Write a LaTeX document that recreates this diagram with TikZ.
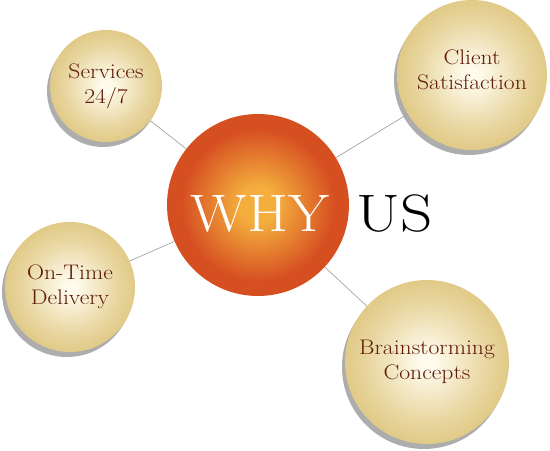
\documentclass[tikz,border=0pt]{standalone}
\usepackage{xcolor}
\usepackage{graphicx}
\usetikzlibrary{shadows}

\definecolor{ballin}{HTML}{FFFCEE}
\definecolor{ballout}{HTML}{E1CA87}
\definecolor{whyin}{HTML}{F4AE3E}
\definecolor{whyout}{HTML}{D64F21}
\definecolor{labeltext}{HTML}{5F1A0A}
\definecolor{linkgray}{HTML}{A3A3A3}

% the slab face of the picture is wider than Latin Modern
\newcommand{\wide}[1]{\scalebox{1.12}[1]{#1}}

\pgfdeclareradialshading{ballshade}{\pgfpoint{0bp}{0bp}}{color(0bp)=(ballin); color(2bp)=(ballin); color(18bp)=(ballout!75!ballin); color(25bp)=(ballout); color(50bp)=(ballout)}
\pgfdeclareradialshading{whyshade}{\pgfpoint{0bp}{0bp}}{color(0bp)=(whyin); color(5bp)=(whyin); color(21bp)=(whyout); color(25bp)=(whyout); color(50bp)=(whyout)}

\begin{document}
\begin{tikzpicture}[x=0.03cm,y=-0.03cm,
    ball/.style={circle, inner sep=0pt, shading=ballshade, text=labeltext, align=center,
      font=\fontsize{18}{21}\selectfont,
      drop shadow={shadow xshift=-0.09cm, shadow yshift=-0.15cm, fill=black!32, opacity=1}},
    balltext/.style={text=labeltext, align=center, font=\fontsize{18}{21}\selectfont},
    link/.style={draw=linkgray, line width=0.6pt}]
    \useasboundingbox (0,0) rectangle (550,451);

    % centre ball
    \node[circle, inner sep=0pt, minimum size=5.46cm, shading=whyshade] (why) at (258,205) {};
    \node[text=white, font=\fontsize{45}{45}\selectfont, anchor=base] (whytext) at (260,231) {\wide{WHY}};
    \node[text=black, font=\fontsize{45}{45}\selectfont, anchor=base west, inner sep=0pt] (us) at (356,231) {\scalebox{1.2}[1]{US}};

    % outer balls
    \node[ball, minimum size=3.36cm] (serv) at (106,86) {\wide{Services}\\\wide{24/7}};
    \node[ball, minimum size=4.5cm] (client) at (472,75) {};
    \node[balltext] (clienttext) at (472,70) {\wide{Client}\\\wide{Satisfaction}};
    \node[ball, minimum size=3.9cm] (ontime) at (70,287) {\wide{On-Time}\\\wide{Delivery}};
    \node[ball, minimum size=4.92cm] (brain) at (427,362) {\wide{Brainstorming}\\\wide{Concepts}};

    % links
    \draw[link] (why) -- (serv);
    \draw[link] (why) -- (client);
    \draw[link] (why) -- (ontime);
    \draw[link] (why) -- (brain);
\end{tikzpicture}
\end{document}
